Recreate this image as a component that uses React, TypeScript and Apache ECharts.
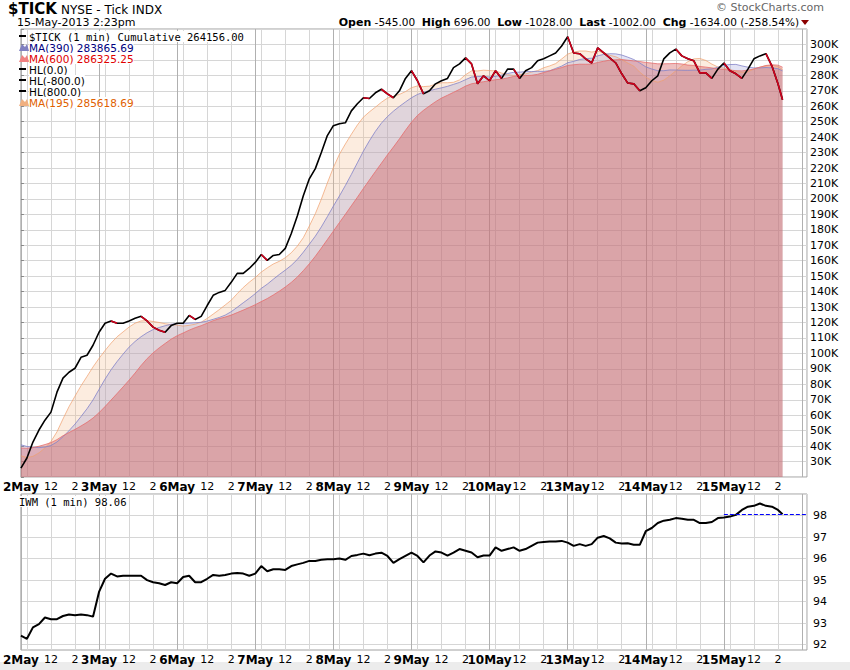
import { useEffect, useRef } from "react";
import * as echarts from "echarts";

// trading days on the x axis (each session = 390 minutes, sampled every 30 min)
const DAYS = ["2May", "3May", "6May", "7May", "8May", "9May", "10May", "13May", "14May", "15May"];

// cumulative $TICK, thousands, every 30 minutes from 2 May open
const TICK = [
  25.8, 32.3, 42.6, 50.4, 56.8, 62, 74.9, 84, 87.8, 90.4, 97.5, 98.8, 105.3,
  113.7, 119.5, 121, 119.5, 119.5, 121, 122.7, 124, 121, 117, 115, 113.7, 118,
  119.5, 119.5, 124.6, 122, 124, 131, 137.6, 139.5, 140.8, 146, 151.8, 151.8, 155,
  158.9, 164, 160.2, 163.4, 164, 168, 177.6, 189, 202, 213, 219.6, 230, 241,
  247.4, 248.7, 249.3, 257, 261.6, 265.5, 265, 268.7, 271, 268, 265.5, 270, 278,
  283, 276.5, 268, 270, 274.5, 276.5, 278, 285, 287.4, 291.3, 287.4, 274.5, 279.7,
  276.5, 283, 278, 284, 284, 278, 283, 285, 289.4, 290.7, 292.6, 294.5, 299,
  305, 294.5, 294, 290.7, 288, 297.8, 294.5, 291.3, 288, 281, 275, 274.5, 270,
  272, 276.5, 279.7, 290.7, 294.5, 297, 292.6, 290.7, 289.4, 281.6, 281.6, 278, 284,
  288, 283, 281, 278, 284, 290.7, 292.6, 294, 286, 274.5, 264.2,
];

// the session before 2 May (seeds the moving averages)
const PRIOR = [36, 34, 33, 35, 37, 36, 34, 46, 50, 53, 52, 49, 45, 40, 37, 35, 34, 33, 31];

// IWM 1-minute close, every 30 minutes
const IWM = [
  92.42, 92.27, 92.8, 92.95, 93.26, 93.18, 93.18, 93.33, 93.4, 93.37, 93.4, 93.37, 93.3,
  94.45, 95.06, 95.3, 95.17, 95.2, 95.2, 95.2, 95.2, 95.0, 94.9, 94.85, 94.77, 94.9,
  94.85, 95.14, 95.2, 94.9, 94.9, 95.06, 95.24, 95.2, 95.24, 95.3, 95.33, 95.3, 95.2,
  95.3, 95.65, 95.41, 95.5, 95.5, 95.47, 95.65, 95.73, 95.8, 95.89, 95.89, 95.94, 95.97,
  95.97, 96.0, 95.94, 96.12, 96.17, 96.23, 96.15, 96.23, 96.27, 96.12, 95.8, 95.97, 96.12,
  96.27, 96.12, 95.82, 96.14, 96.33, 96.28, 96.14, 96.28, 96.44, 96.36, 96.28, 96.06, 96.14,
  96.14, 96.52, 96.36, 96.44, 96.52, 96.36, 96.44, 96.59, 96.74, 96.77, 96.79, 96.79, 96.82,
  96.74, 96.59, 96.67, 96.59, 96.67, 96.97, 97.05, 96.94, 96.74, 96.7, 96.71, 96.64, 96.64,
  97.27, 97.42, 97.65, 97.76, 97.8, 97.88, 97.85, 97.8, 97.8, 97.65, 97.65, 97.7, 97.88,
  97.91, 97.95, 98.03, 98.26, 98.41, 98.45, 98.56, 98.45, 98.41, 98.26, 98.06,
];

const IWM_LAST = 98.06;
const STEP = 30;
const X_MAX = 3925;
const LAST_MIN = 3803;

const xOf = (i: number, n: number) => (i === n - 1 ? LAST_MIN : i * STEP);

function movingAvg(win: number) {
  const all = [...PRIOR, ...TICK];
  return TICK.map((_, i) => {
    const end = PRIOR.length + i;
    let s = 0;
    for (let j = end - win + 1; j <= end; j++) s += all[j];
    return [xOf(i, TICK.length), (s / win) * 1000];
  });
}

const FONT = "DejaVu Sans";

export default function App() {
  const ref = useRef<HTMLDivElement>(null);

  useEffect(() => {
    document.body.style.margin = "0";
    if (!ref.current) return;
    const chart = echarts.init(ref.current, null, { renderer: "svg" });

    const n = TICK.length;
    const tickData = TICK.map((v, i) => [xOf(i, n), v * 1000]);
    const redData = TICK.map((v, i) => {
      const down = (i > 0 && v < TICK[i - 1]) || (i < n - 1 && TICK[i + 1] < v);
      return [xOf(i, n), down ? v * 1000 : null];
    });
    const iwmData = IWM.map((v, i) => [xOf(i, IWM.length), v]);

    const vColors = Array.from({ length: 13 }, (_, i) =>
      i === 0 ? "#b0b0b0" : i === 1 || i === 5 || i === 9 ? "#d6d6d6" : "rgba(0,0,0,0)"
    );
    const xLabel = (v: number) => {
      const m = v % 390;
      const d = Math.floor(v / 390);
      if (m === 0 && DAYS[d]) return `{d|${DAYS[d]}}`;
      if (m === 150 && v < LAST_MIN + 100) return "12";
      if (m === 270 && v < LAST_MIN + 100) return "2";
      return "";
    };
    const xAxisBase = {
      type: "value" as const,
      min: 0,
      max: X_MAX,
      interval: STEP,
      axisLine: { show: false },
      axisTick: { show: false },
      splitLine: { show: true, lineStyle: { color: vColors, width: 1 } },
      axisLabel: {
        formatter: xLabel,
        showMaxLabel: false,
        color: "#000",
        fontFamily: FONT,
        fontSize: 11,
        margin: 4,
        rich: { d: { fontWeight: "bold", fontSize: 12, fontFamily: FONT, color: "#000" } },
      },
    };

    const maSeries = (name: string, win: number, line: string, fill: string) => ({
      name,
      type: "line",
      xAxisIndex: 0,
      yAxisIndex: 0,
      data: movingAvg(win),
      symbol: "none",
      lineStyle: { color: line, width: 1 },
      areaStyle: { color: fill, origin: "start" },
    });

    const legend = [
      { t: "$TICK (1 min) Cumulative 264156.00", c: "#000", mono: true, icon: "line" },
      { t: "MA(390) 283865.69", c: "#000080", icon: "#8080c0" },
      { t: "MA(600) 286325.25", c: "#e00000", icon: "#f08080" },
      { t: "HL(0.0)", c: "#000", icon: "line" },
      { t: "HL(-800.0)", c: "#000", icon: "line" },
      { t: "HL(800.0)", c: "#000", icon: "line" },
      { t: "MA(195) 285618.69", c: "#e06000", icon: "#f0b080" },
    ];
    const legendEls: any[] = [];
    legend.forEach((l, i) => {
      const y = 31 + i * 11;
      if (l.icon === "line") {
        legendEls.push({ type: "rect", z: 100, shape: { x: 19, y: y + 4, width: 7, height: 2 }, style: { fill: "#000" } });
      } else {
        legendEls.push({
          type: "polygon",
          z: 100,
          shape: { points: [[19, y + 9], [22, y + 2], [25, y + 5], [27, y + 2], [29, y + 9]] },
          style: { fill: l.icon },
        });
      }
      legendEls.push({
        type: "text",
        z: 100,
        x: 29,
        y,
        style: {
          text: l.t,
          fill: l.c,
          font: l.mono ? `10.5px "DejaVu Sans Mono"` : `10.5px "${FONT}"`,
          lineHeight: 11,
          verticalAlign: "top",
          backgroundColor: "#fff",
        },
      });
    });

    chart.setOption({
      animation: false,
      backgroundColor: "#fff",
      grid: [
        { left: 17, right: 43, top: 29, height: 448, show: true, borderColor: "#a0a0a0", borderWidth: 1 },
        { left: 17, right: 43, top: 494, height: 156, show: true, borderColor: "#a0a0a0", borderWidth: 1 },
      ],
      xAxis: [
        { ...xAxisBase, gridIndex: 0 },
        { ...xAxisBase, gridIndex: 1 },
      ],
      yAxis: [
        {
          type: "value",
          gridIndex: 0,
          position: "right",
          min: 20000,
          max: 310000,
          interval: 10000,
          axisLine: { show: false },
          axisTick: { show: true, length: 3, lineStyle: { color: "#888" } },
          splitLine: { lineStyle: { color: "#d6d6d6" } },
          axisLabel: {
            formatter: (v: number) => (v === 20000 || v === 310000 ? "" : `${v / 1000}K`),
            color: "#000",
            fontFamily: FONT,
            fontSize: 11,
            margin: 3,
          },
        },
        {
          type: "value",
          gridIndex: 1,
          position: "right",
          min: 91.75,
          max: 99,
          interval: 0.25,
          axisLine: { show: false },
          axisTick: { show: false },
          splitLine: { lineStyle: { color: ["rgba(0,0,0,0)", "#d6d6d6", "rgba(0,0,0,0)", "rgba(0,0,0,0)"] } },
          axisLabel: {
            formatter: (v: number) => (Number.isInteger(v) && v >= 92 && v <= 98 ? String(v) : ""),
            color: "#000",
            fontFamily: FONT,
            fontSize: 11,
            margin: 6,
          },
        },
      ],
      series: [
        maSeries("MA(195)", 7, "rgba(240,160,110,0.7)", "rgba(245,185,140,0.4)"),
        maSeries("MA(390)", 13, "rgba(130,130,200,0.8)", "rgba(140,140,210,0.35)"),
        maSeries("MA(600)", 20, "rgba(230,110,110,0.8)", "rgba(205,75,75,0.5)"),
        {
          type: "line",
          data: tickData,
          symbol: "none",
          lineStyle: { color: "#000", width: 1.6 },
        },
        {
          type: "line",
          data: redData,
          symbol: "none",
          connectNulls: false,
          lineStyle: { color: "#d0001c", width: 1.6 },
        },
        {
          type: "line",
          xAxisIndex: 1,
          yAxisIndex: 1,
          data: iwmData,
          symbol: "none",
          lineStyle: { color: "#000", width: 2 },
          markLine: {
            silent: true,
            symbol: "none",
            label: { show: false },
            lineStyle: { color: "#0000ff", type: "dashed", width: 1 },
            data: [[{ coord: [9 * 390, IWM_LAST] }, { coord: [X_MAX, IWM_LAST] }]],
          },
        },
      ],
      graphic: [
        { type: "text", x: 8, y: 1, style: { text: "$TICK", font: `bold 15px "${FONT}"`, fill: "#000", verticalAlign: "top", lineHeight: 16 } },
        { type: "text", x: 61, y: 3, style: { text: "NYSE - Tick INDX", font: `12px "${FONT}"`, fill: "#000", verticalAlign: "top", lineHeight: 13 } },
        { type: "text", x: 17, y: 17, style: { text: "15-May-2013 2:23pm", font: `11px "${FONT}"`, fill: "#000", verticalAlign: "top", lineHeight: 11 } },
        {
          type: "text",
          x: 716,
          y: 2,
          style: { text: "© StockCharts.com", font: `11px "${FONT}"`, fill: "#666", verticalAlign: "top", lineHeight: 11 },
        },
        {
          type: "text",
          x: 799,
          y: 16,
          style: {
            text:
              "{b|Open} -545.00  {b|High} 696.00  {b|Low} -1028.00  {b|Last} -1002.00  {b|Chg} -1634.00 (-258.54%)",
            align: "right",
            verticalAlign: "top",
            font: `10.5px "${FONT}"`,
            fill: "#000",
            lineHeight: 12,
            rich: { b: { fontWeight: "bold", fontSize: 11, fontFamily: FONT, lineHeight: 12 } },
          },
        },
        { type: "polygon", shape: { points: [[801, 20], [809, 20], [805, 25]] }, style: { fill: "#8b0000" } },
        ...legendEls,
        {
          type: "text",
          z: 100,
          x: 19,
          y: 496,
          style: {
            text: "IWM (1 min) 98.06",
            font: `10.5px "DejaVu Sans Mono"`,
            fill: "#000",
            lineHeight: 11,
            verticalAlign: "top",
            backgroundColor: "#fff",
          },
        },
        { type: "rect", shape: { x: 0, y: 662, width: 850, height: 8 }, style: { fill: "#ececec" } },
      ],
    });

    return () => chart.dispose();
  }, []);

  return <div ref={ref} style={{ width: 850, height: 670 }} />;
}
